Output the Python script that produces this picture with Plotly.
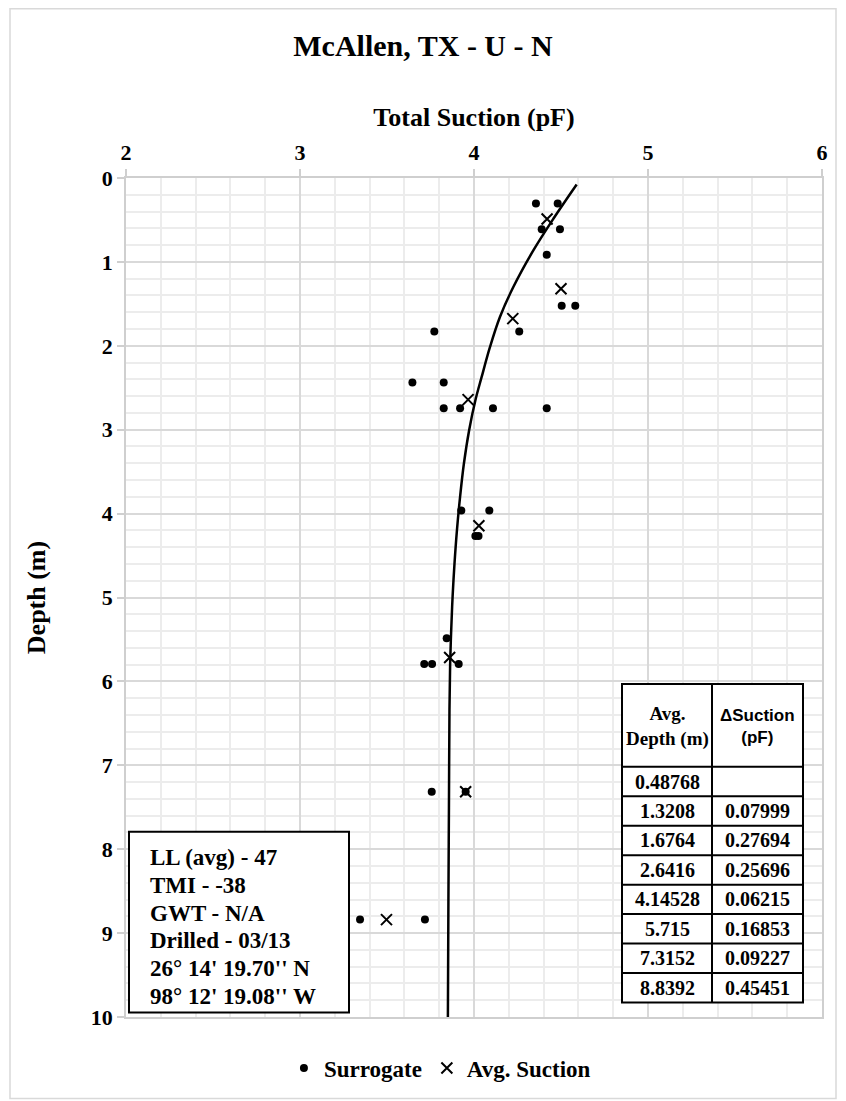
import plotly.graph_objects as go

# Individual (surrogate) total suction readings by sample depth
surrogate_depth = [0.3048, 0.3048, 0.6096, 0.6096, 0.9144, 1.524, 1.524,
                   1.8288, 1.8288, 2.4384, 2.4384, 2.7432, 2.7432, 2.7432, 2.7432,
                   3.9624, 3.9624, 4.2672, 4.2672, 5.4864, 5.7912, 5.7912, 5.7912,
                   7.3152, 7.3152, 8.8392, 8.8392]
surrogate_suction = [4.356, 4.481, 4.389, 4.494, 4.418, 4.504, 4.582,
                     3.772, 4.260, 3.646, 3.826, 3.826, 3.920, 4.109, 4.418,
                     3.927, 4.088, 4.008, 4.026, 3.843, 3.714, 3.759, 3.912,
                     3.757, 3.952, 3.345, 3.718]

# Averaged suction per depth interval
avg_depth = [0.48768, 1.3208, 1.6764, 2.6416, 4.14528, 5.715, 7.3152, 8.8392]
avg_suction = [4.420, 4.500, 4.223, 3.966, 4.028, 3.860, 3.952, 3.497]
delta_suction = [None, 0.07999, 0.27694, 0.25696, 0.06215, 0.16853, 0.09227, 0.45451]

# Trend curve through the profile
trend_depth = [0.077, 0.486, 0.863, 1.300, 1.657, 2.014, 2.371, 2.649, 3.006,
               3.403, 3.800, 4.196, 4.593, 4.990, 5.387, 5.783, 6.339, 7.5, 8.6, 10.0]
trend_suction = [4.590, 4.456, 4.341, 4.226, 4.149, 4.092, 4.044, 4.008, 3.972,
                 3.942, 3.920, 3.902, 3.888, 3.877, 3.869, 3.863, 3.859, 3.856, 3.853, 3.850]

x_ticks = [2, 3, 4, 5, 6]
y_ticks = [0, 1, 2, 3, 4, 5, 6, 7, 8, 9, 10]

site_info = ["LL (avg) - 47", "TMI - -38", "GWT - N/A", "Drilled - 03/13",
             "26\u00b0 14' 19.70'' N", "98\u00b0 12' 19.08'' W"]

SERIF = "Liberation Serif"
SANS = "Liberation Sans"
W, H = 846, 1101
L, R, T, B = 126, 822, 177.5, 1017.5


def fx(p):
    return (p - L) / (R - L)


def fy(p):
    return (B - p) / (B - T)


def bold(size, fam=SERIF):
    return dict(family=fam, size=size, color="black", weight="bold")


fig = go.Figure()

fig.add_trace(go.Scatter(
    x=trend_suction, y=trend_depth, mode="lines",
    line=dict(color="black", width=2.5, shape="spline"),
    showlegend=False, hoverinfo="skip"))

fig.add_trace(go.Scatter(
    x=surrogate_suction, y=surrogate_depth, mode="markers", name="Surrogate",
    marker=dict(symbol="circle", size=8, color="black")))

fig.add_trace(go.Scatter(
    x=avg_suction, y=avg_depth, mode="markers", name="Avg. Suction",
    marker=dict(symbol="x-thin", size=11, color="black", line=dict(color="black", width=2))))

axis_common = dict(
    showline=True, linecolor="#cfcfcf", linewidth=1.5, mirror=True,
    ticks="outside", ticklen=7, tickcolor="#cfcfcf", tickwidth=1.5,
    showgrid=True, gridcolor="#d9d9d9", gridwidth=1.5, zeroline=False,
    tickfont=bold(22),
)

fig.update_xaxes(
    side="top", range=[2, 6], tickvals=x_ticks, ticktext=[f"<b>{v}</b>" for v in x_ticks],
    minor=dict(dtick=0.2, showgrid=True, gridcolor="#ececec", gridwidth=1.5, ticks=""),
    title=dict(text="Total Suction (pF)", font=bold(26), standoff=6),
    **axis_common)
fig.update_yaxes(
    range=[10, 0], tickvals=y_ticks, ticktext=[f"<b>{v}</b>" for v in y_ticks],
    minor=dict(dtick=0.2, showgrid=True, gridcolor="#ececec", gridwidth=1.5, ticks=""),
    title=dict(text="Depth (m)", font=bold(26), standoff=38),
    **axis_common)

shapes = []
annotations = []

# outer chart frame
shapes.append(dict(type="rect", xref="paper", yref="paper",
                   x0=fx(10), x1=fx(836), y0=fy(1099), y1=fy(8),
                   line=dict(color="#d9d9d9", width=1.5), fillcolor="rgba(0,0,0,0)", layer="below"))

# site information box
bx0, bx1, by0, by1 = 129, 349, 832, 1013
shapes.append(dict(type="rect", xref="paper", yref="paper",
                   x0=fx(bx0), x1=fx(bx1), y0=fy(by1), y1=fy(by0),
                   line=dict(color="black", width=2), fillcolor="white", layer="above"))
for i, line in enumerate(site_info):
    annotations.append(dict(xref="paper", yref="paper", x=fx(148), y=fy(858 + 27.8 * i),
                            xanchor="left", yanchor="middle", text=line, showarrow=False,
                            font=bold(23)))

# average depth / delta suction table
tx0, tmid, tx1 = 622, 712, 803
ty0, thead = 684, 767
row_h = 29.5
ty1 = thead + row_h * len(avg_depth)
shapes.append(dict(type="rect", xref="paper", yref="paper",
                   x0=fx(tx0), x1=fx(tx1), y0=fy(ty1), y1=fy(ty0),
                   line=dict(color="black", width=2), fillcolor="white", layer="above"))
shapes.append(dict(type="line", xref="paper", yref="paper",
                   x0=fx(tmid), x1=fx(tmid), y0=fy(ty1), y1=fy(ty0),
                   line=dict(color="black", width=2), layer="above"))
for i in range(len(avg_depth)):
    yy = thead + row_h * i
    shapes.append(dict(type="line", xref="paper", yref="paper",
                       x0=fx(tx0), x1=fx(tx1), y0=fy(yy), y1=fy(yy),
                       line=dict(color="black", width=2), layer="above"))

cx_left = (tx0 + tmid) / 2
cx_right = (tmid + tx1) / 2
annotations.append(dict(xref="paper", yref="paper", x=fx(cx_left), y=fy(727),
                        text="Avg.<br>Depth (m)", showarrow=False, align="center",
                        xanchor="center", yanchor="middle", font=bold(19)))
annotations.append(dict(xref="paper", yref="paper", x=fx(cx_right), y=fy(727),
                        text="\u0394Suction<br>(pF)", showarrow=False, align="center",
                        xanchor="center", yanchor="middle", font=bold(17, SANS)))
for i, (d, s) in enumerate(zip(avg_depth, delta_suction)):
    yc = thead + row_h * (i + 0.5)
    annotations.append(dict(xref="paper", yref="paper", x=fx(cx_left), y=fy(yc),
                            text=f"{d}", showarrow=False, xanchor="center", yanchor="middle",
                            font=bold(20)))
    if s is not None:
        annotations.append(dict(xref="paper", yref="paper", x=fx(cx_right), y=fy(yc),
                                text=f"{s}", showarrow=False, xanchor="center", yanchor="middle",
                                font=bold(20)))

fig.update_layout(
    width=W, height=H, autosize=False,
    margin=dict(l=L, r=W - R, t=T, b=H - B),
    paper_bgcolor="white", plot_bgcolor="white",
    title=dict(text="McAllen, TX - U - N", font=bold(30), x=0.5, xref="container",
               xanchor="center", y=1 - 45 / H, yref="container", yanchor="middle"),
    legend=dict(orientation="h", xref="container", yref="container", x=0.52, xanchor="center",
                y=1 - 1068 / H, yanchor="middle", font=bold(23), itemwidth=30,
                bgcolor="rgba(0,0,0,0)"),
    shapes=shapes, annotations=annotations,
)

fig.write_html("out.html")
